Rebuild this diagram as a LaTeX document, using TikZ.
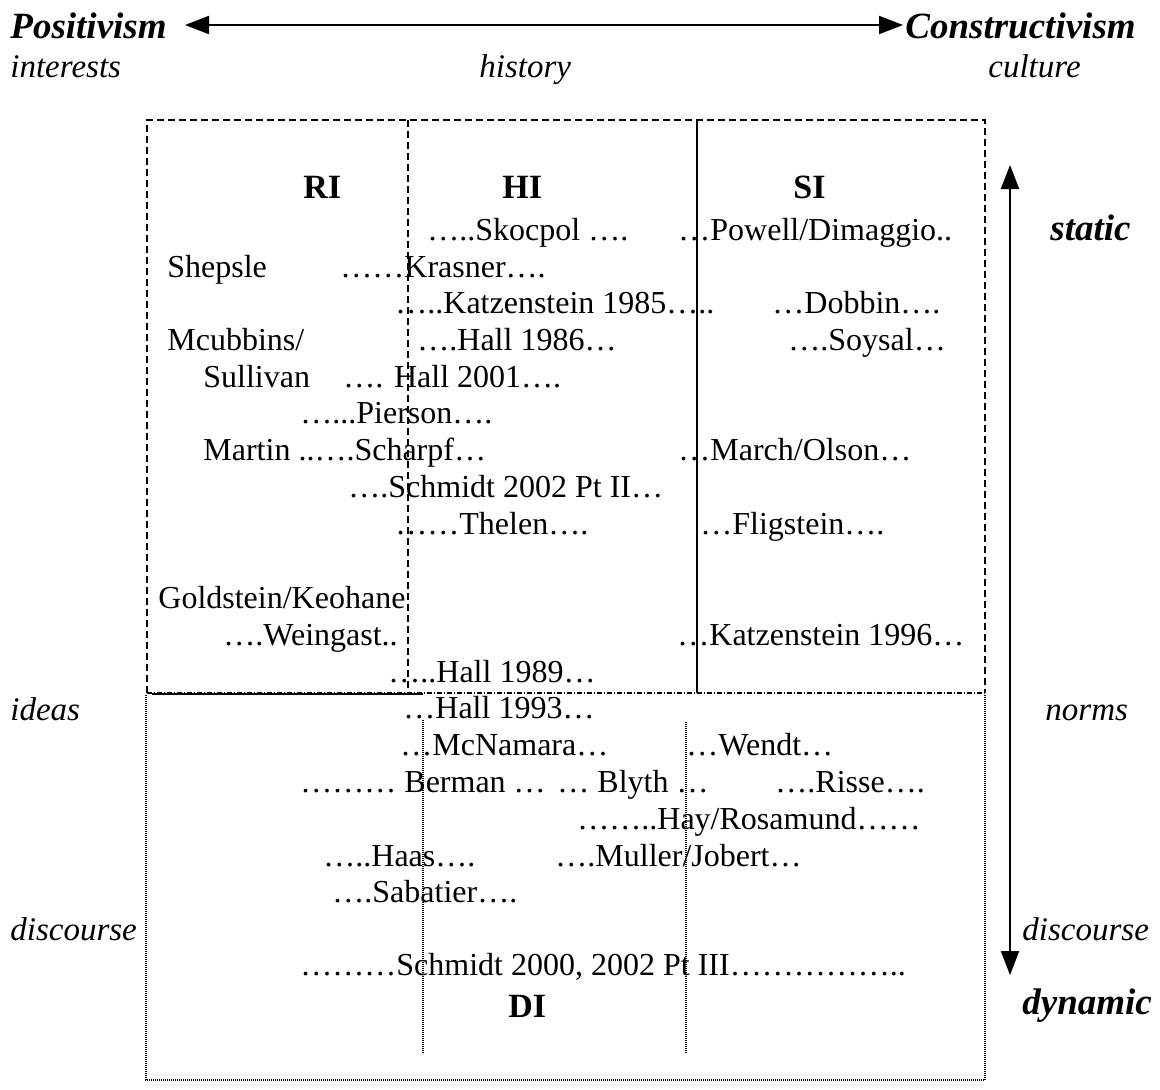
\documentclass[tikz,border=0pt]{standalone}
\usepackage{fontspec}
\setmainfont{Liberation Serif}
\usetikzlibrary{arrows.meta}
\begin{document}
\begin{tikzpicture}[x=0.5pt,y=-0.5pt,
  txt/.style={anchor=base west, inner sep=0pt, font=\fontsize{16}{19}\selectfont},
  head/.style={anchor=base west, inner sep=0pt, font=\fontsize{17}{20}\selectfont\bfseries},
  lab/.style={anchor=base west, inner sep=0pt, font=\fontsize{16.5}{20}\selectfont\itshape},
  big/.style={anchor=base west, inner sep=0pt, font=\fontsize{18.5}{22}\selectfont\bfseries\itshape},
  dashbox/.style={line width=0.75pt, dash pattern=on 3.5pt off 2pt},
  dotbox/.style={line width=0.75pt, dash pattern=on 0.5pt off 0.5pt},
  dashdot/.style={line width=0.75pt, dash pattern=on 2.5pt off 1pt on 0.5pt off 1pt},
  axis/.style={line width=1pt, {Triangle[width=9pt,length=12pt]}-{Triangle[width=9pt,length=12pt]}}]
\useasboundingbox (0,0) rectangle (1160,1089);

% axis labels
\node[big] (pos) at (10,38) {Positivism};
\node[big] (con) at (905,38) {Constructivism};
\node[lab] (int) at (10,77) {interests};
\node[lab] (his) at (479,77) {history};
\node[lab] (cul) at (988,77) {culture};
\node[big] (sta) at (1050,240) {static};
\node[big] (dyn) at (1022,1014) {dynamic};
\node[lab] (ide) at (10,720) {ideas};
\node[lab] (nor) at (1045,720) {norms};
\node[lab] (disl) at (10,940) {discourse};
\node[lab] (disr) at (1022,940) {discourse};

% arrows
\coordinate (hl) at (185,25);
\coordinate (hr) at (903,25);
\draw[axis] (hl) -- (hr);
\coordinate (vt) at (1010,165);
\coordinate (vb) at (1010,975);
\draw[axis] (vt) -- (vb);

% upper box
\draw[dashbox] (147,693) -- (147,120) -- (985,120) -- (985,693);
\draw[dashbox, line width=1pt] (408,120) -- (408,693);
\draw[line width=0.75pt] (697,120) -- (697,693);
\draw[dashdot] (147,693) -- (985,693);
\draw[line width=1.25pt] (152,694) -- (423,694);

% lower box
\draw[dotbox] (146,695) -- (146,1080) -- (985,1080) -- (985,695);
\draw[dotbox] (423,720) -- (423,1053);
\draw[dotbox] (686,722) -- (686,1053);

% headings
\node[head] (ri) at (303,198) {RI};
\node[head] (hi) at (502,198) {HI};
\node[head] (si) at (793,198) {SI};
\node[head] (di) at (508,1017) {DI};

% entries
\node[txt] (skoc) at (427,240) {…..Skocpol ….};
\node[txt] (powe) at (678,240) {…Powell/Dimaggio..};
\node[txt] (shep) at (167,277) {Shepsle};
\node[txt] (kras) at (340,277) {……Krasner….};
\node[txt] (kat85) at (395,313) {…..Katzenstein 1985…..};
\node[txt] (dobb) at (772,313) {…Dobbin….};
\node[txt] (mcub) at (167,350) {Mcubbins/};
\node[txt] (ha86) at (417,350) {….Hall 1986…};
\node[txt] (soys) at (788,350) {….Soysal…};
\node[txt] (sull) at (203,387) {Sullivan};
\node[txt] (ha01) at (343,387) {…. Hall 2001….};
\node[txt] (pier) at (300,423) {…...Pierson….};
\node[txt] (mart) at (203,460) {Martin ..….Scharpf…};
\node[txt] (marc) at (678,460) {…March/Olson…};
\node[txt] (sc02) at (348,497) {….Schmidt 2002 Pt II…};
\node[txt] (thel) at (395,534) {……Thelen….};
\node[txt] (flig) at (700,534) {…Fligstein….};
\node[txt] (gold) at (158,608) {Goldstein/Keohane};
\node[txt] (wein) at (223,645) {….Weingast..};
\node[txt] (kat96) at (677,645) {…Katzenstein 1996…};
\node[txt] (ha89) at (388,682) {…..Hall 1989…};
\node[txt] (ha93) at (403,718) {…Hall 1993…};
\node[txt] (mcna) at (400,755) {…McNamara…};
\node[txt] (wend) at (686,755) {…Wendt…};
\node[txt] (berm) at (300,792) {……… Berman …};
\node[txt] (blyt) at (557,792) {… Blyth …};
\node[txt] (riss) at (775,792) {….Risse….};
\node[txt] (hay) at (577,829) {……..Hay/Rosamund……};
\node[txt] (haas) at (323,866) {…..Haas….};
\node[txt] (mull) at (555,866) {….Muller/Jobert…};
\node[txt] (saba) at (332,902) {….Sabatier….};
\node[txt] (sc00) at (300,975) {………Schmidt 2000, 2002 Pt III……………..};
\end{tikzpicture}
\end{document}
